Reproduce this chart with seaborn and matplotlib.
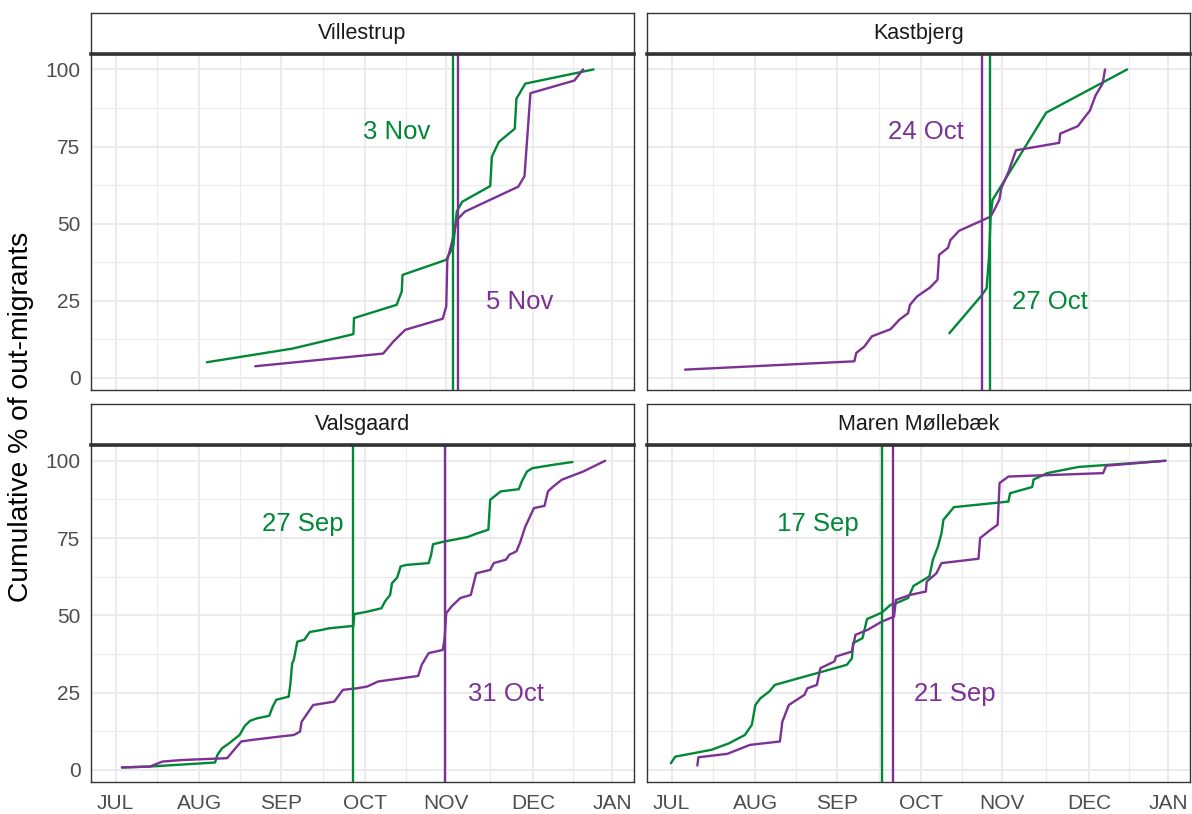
import numpy as np
import pandas as pd
import matplotlib
matplotlib.use("Agg")
import matplotlib.pyplot as plt
import seaborn as sns

# ---------------- data (x = days since 1 July, y = cumulative %) ----------------
sites = ["Villestrup", "Kastbjerg", "Valsgaard", "Maren Møllebæk"]
groups = ["green", "purple"]
palette = {"green": "#008837", "purple": "#7B3294"}

vil_green_day = [33.8, 65.4, 88.1, 88.3, 104.1, 106.0, 106.3, 122.5, 125.1, 125.8, 126.4, 128.4, 138.8,
                 139.4, 142.0, 147.9, 148.5, 151.8, 177.1]
vil_green_pct = [5.1, 9.5, 14.2, 19.4, 23.7, 28.0, 33.4, 38.3, 42.6, 49.0, 53.9, 57.1, 62.2,
                 71.7, 76.5, 80.8, 90.5, 95.4, 100.0]
vil_purple_day = [51.7, 99.1, 103.0, 107.3, 121.2, 122.5, 122.9, 124.5, 126.4, 129.4, 149.2, 151.5,
                  153.7, 170.0, 173.2]
vil_purple_pct = [3.8, 7.9, 11.9, 15.6, 19.2, 23.2, 38.3, 43.6, 51.2, 53.9, 62.0, 65.4,
                  92.3, 96.4, 100.0]

kas_green_day = [102.9, 115.0, 116.7, 117.6, 118.2, 118.9, 138.8, 168.8]
kas_green_pct = [14.5, 26.9, 29.1, 39.3, 52.3, 57.7, 86.0, 100.0]
kas_purple_day = [4.9, 67.7, 68.4, 71.4, 74.2, 81.1, 84.4, 87.6, 88.3, 90.9, 95.7, 98.5, 99.1, 102.4,
                  103.3, 106.5, 118.2, 119.5, 121.5, 122.1, 124.8, 127.6, 143.6, 144.0, 150.5, 155.0,
                  157.1, 159.7, 160.6]
kas_purple_pct = [2.7, 5.4, 8.1, 10.2, 13.5, 15.8, 18.9, 21.0, 23.7, 26.4, 29.3, 31.8, 39.9, 42.2,
                  44.7, 47.7, 52.3, 54.4, 57.9, 61.4, 66.8, 73.8, 76.2, 79.2, 81.6, 86.7,
                  91.6, 95.4, 100.0]

val_green_day = [2.3, 12.7, 36.8, 37.7, 39.4, 42.0, 45.9, 47.8, 49.8, 52.4, 56.9, 58.2, 59.5, 64.1,
                 64.7, 65.4, 66.0, 67.3, 69.9, 71.9, 76.4, 79.0, 88.1, 88.4, 93.3, 98.5, 99.8,
                 101.7, 102.4, 104.3, 105.6, 107.6, 116.0, 116.9, 117.6, 121.9, 130.3, 133.6,
                 138.1, 138.8, 142.7, 149.4, 150.5, 152.4, 154.4, 162.2, 169.3]
val_green_pct = [0.8, 1.1, 2.4, 4.9, 7.0, 8.6, 11.3, 14.2, 15.9, 16.7, 17.5, 20.5, 22.7, 23.7,
                 27.5, 34.5, 35.6, 41.5, 42.1, 44.6, 45.3, 45.8, 46.6, 50.4, 51.2, 52.3, 54.5,
                 56.6, 60.4, 62.2, 65.8, 66.3, 66.9, 69.6, 73.0, 73.9, 75.3, 76.4,
                 77.7, 87.4, 90.1, 90.8, 93.3, 96.5, 97.6, 98.7, 99.6]
val_purple_day = [2.3, 12.7, 17.3, 24.4, 41.3, 43.3, 46.5, 50.4, 60.8, 66.0, 68.3, 68.9, 71.9, 73.2,
                  81.0, 84.2, 89.4, 93.3, 97.2, 112.1, 113.4, 116.0, 121.2, 121.9, 122.5, 124.5,
                  127.7, 131.6, 133.6, 138.8, 140.1, 144.6, 145.9, 148.5, 149.8, 151.8, 155.0,
                  158.9, 160.2, 162.2, 165.4, 173.2, 181.4]
val_purple_pct = [0.8, 1.1, 2.7, 3.2, 3.8, 5.9, 9.2, 9.7, 10.8, 11.3, 12.4, 15.6, 19.4, 21.0,
                  22.1, 25.9, 26.4, 27.0, 28.6, 30.4, 34.0, 37.8, 38.8, 42.6, 50.7, 52.9,
                  55.6, 56.6, 63.6, 64.7, 66.9, 68.0, 69.6, 70.7, 73.4, 78.7, 84.7,
                  85.4, 90.1, 91.7, 93.9, 96.5, 100.0]

mm_green_day = [-0.3, 1.3, 14.7, 21.2, 27.1, 29.7, 31.0, 32.9, 36.2, 38.2, 64.9, 66.8, 67.2, 70.7,
                72.4, 77.9, 81.1, 83.1, 87.6, 89.6, 95.5, 96.8, 98.7, 100.0, 100.7, 104.6, 124.8,
                125.4, 133.6, 134.1, 139.1, 150.8, 183.0]
mm_green_pct = [2.2, 4.3, 6.5, 8.6, 11.3, 14.6, 21.0, 23.2, 25.4, 27.5, 34.0, 36.1, 41.0, 42.6,
                48.8, 50.9, 53.4, 53.9, 55.6, 59.5, 62.6, 68.0, 72.3, 76.6, 80.9, 85.0, 86.8,
                89.5, 91.5, 93.9, 96.0, 98.0, 100.0]
mm_purple_day = [9.5, 9.9, 20.6, 29.0, 40.1, 41.0, 43.4, 49.2, 50.3, 53.8, 55.1, 60.3, 60.9, 66.8,
                 68.1, 72.6, 77.9, 82.4, 83.1, 88.3, 94.2, 94.5, 98.1, 100.0, 113.7, 114.3,
                 118.2, 120.8, 121.5, 124.8, 159.9, 161.0, 183.0]
mm_purple_pct = [1.4, 4.1, 5.2, 8.1, 9.2, 15.6, 21.0, 24.3, 26.4, 27.5, 32.9, 35.1, 36.7, 38.3,
                 43.7, 45.3, 48.0, 49.6, 55.0, 56.6, 57.7, 60.9, 63.6, 66.9, 68.3, 75.0,
                 77.7, 79.3, 92.8, 94.9, 96.0, 98.4, 100.0]

# median (50 %) dates per site: green, purple
median_green = ["2020-11-03", "2020-10-27", "2020-09-27", "2020-09-17"]
median_purple = ["2020-11-05", "2020-10-24", "2020-10-31", "2020-09-21"]
# label x positions (days since 1 July)
label_green_x = [104.3, 140.0, 69.5, 54.3]
label_purple_x = [149.6, 94.3, 144.8, 105.1]
label_green_y = [79.7, 24.7, 79.5, 79.5]
label_purple_y = [24.7, 79.7, 24.5, 24.5]

month_labels = ["JUL", "AUG", "SEP", "OCT", "NOV", "DEC", "JAN"]
month_ticks = [0, 30.9, 61.1, 92.4, 122.5, 154.7, 184]

series = {
    ("Villestrup", "green"): (vil_green_day, vil_green_pct),
    ("Villestrup", "purple"): (vil_purple_day, vil_purple_pct),
    ("Kastbjerg", "green"): (kas_green_day, kas_green_pct),
    ("Kastbjerg", "purple"): (kas_purple_day, kas_purple_pct),
    ("Valsgaard", "green"): (val_green_day, val_green_pct),
    ("Valsgaard", "purple"): (val_purple_day, val_purple_pct),
    ("Maren Møllebæk", "green"): (mm_green_day, mm_green_pct),
    ("Maren Møllebæk", "purple"): (mm_purple_day, mm_purple_pct),
}
rows = []
for (site, grp), (d, p) in series.items():
    for i, (dd, pp) in enumerate(zip(d, p)):
        rows.append({"site": site, "group": grp, "day": dd, "pct": pp, "order": i})
df = pd.DataFrame(rows)

jul1 = pd.Timestamp("2020-07-01")
def to_day(s):
    return (pd.Timestamp(s) - jul1).days

# ---------------- style ----------------
sns.set_style("white")
plt.rcParams["font.family"] = ["Liberation Sans", "DejaVu Sans"]

fig = plt.figure(figsize=(11.92, 8.14), dpi=100)
W, H = 1192.0, 814.0

panel_px = {  # left, top, right, bottom in pixels
    "Villestrup": (91, 54, 633.5, 390.3),
    "Kastbjerg": (647, 54, 1189.5, 390.3),
    "Valsgaard": (91, 445.3, 633.5, 782.3),
    "Maren Møllebæk": (647, 445.3, 1189.5, 782.3),
}
strip_h = 41.5
xlim = (-9.16, 191.9)
ylim = (-4.0, 105.0)
tick_col = "#4D4D4D"
border_col = "#333333"

for k, site in enumerate(sites):
    l, t, r, b = panel_px[site]
    ax = fig.add_axes([l / W, 1 - b / H, (r - l) / W, (b - t) / H])
    sub = df[df.site == site]
    sns.lineplot(data=sub, x="day", y="pct", hue="group", palette=palette,
                 units="group", estimator=None, sort=False, legend=False,
                 linewidth=1.7, ax=ax, zorder=3)
    ax.axvline(to_day(median_green[k]), color=palette["green"], lw=1.7, zorder=4)
    ax.axvline(to_day(median_purple[k]), color=palette["purple"], lw=1.7, zorder=4)
    gd = pd.Timestamp(median_green[k])
    pdt = pd.Timestamp(median_purple[k])
    ax.text(label_green_x[k], label_green_y[k], f"{gd.day} {gd.strftime('%b')}",
            color=palette["green"], fontsize=18.5, ha="center", va="center", zorder=5)
    ax.text(label_purple_x[k], label_purple_y[k], f"{pdt.day} {pdt.strftime('%b')}",
            color=palette["purple"], fontsize=18.5, ha="center", va="center", zorder=5)

    ax.set_xlim(*xlim)
    ax.set_ylim(*ylim)
    ax.set_xticks(month_ticks)
    ax.set_xticks([(a + c) / 2 for a, c in zip(month_ticks[:-1], month_ticks[1:])], minor=True)
    ax.set_yticks([0, 25, 50, 75, 100])
    ax.set_yticks([12.5, 37.5, 62.5, 87.5], minor=True)
    ax.grid(True, which="major", color="#EBEBEB", lw=1.5, zorder=0)
    ax.grid(True, which="minor", color="#EBEBEB", lw=0.8, zorder=0)
    ax.set_axisbelow(True)
    ax.set_xlabel("")
    ax.set_ylabel("")
    for sp in ax.spines.values():
        sp.set_color(border_col)
        sp.set_linewidth(1.0)
    ax.tick_params(which="minor", length=0)
    ax.tick_params(which="major", length=4.5, width=1.2, color=border_col,
                   labelcolor=tick_col, labelsize=15, pad=3)
    if k in (0, 1):
        ax.tick_params(axis="x", which="major", length=0, labelbottom=False)
    else:
        ax.set_xticklabels(month_labels)
        ax.tick_params(axis="x", pad=4)
    if k in (1, 3):
        ax.tick_params(axis="y", which="major", length=0, labelleft=False)

    # facet strip
    sax = fig.add_axes([l / W, 1 - t / H, (r - l) / W, strip_h / H])
    sax.set_facecolor("white")
    sax.set_xticks([])
    sax.set_yticks([])
    for name, sp in sax.spines.items():
        sp.set_color(border_col)
        sp.set_linewidth(1.0)
    sax.spines["bottom"].set_linewidth(2.6)
    sax.text(0.5, 0.5, site, ha="center", va="center", fontsize=15.5, color="#1A1A1A",
             transform=sax.transAxes)

fig.text(21 / W, 1 - 417 / H, "Cumulative % of out-migrants", rotation=90,
         ha="center", va="center", fontsize=20.3, color="black")

fig.savefig("out.png", dpi=100)
